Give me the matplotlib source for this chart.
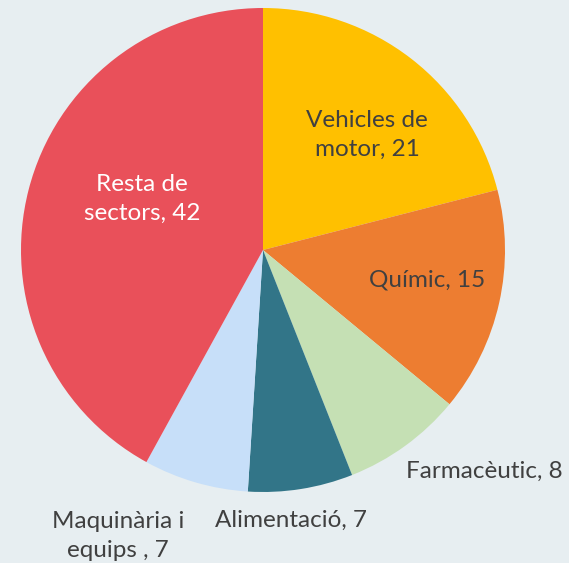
import matplotlib.pyplot as plt

# Data
sectors = ['Vehicles de\nmotor, 21', 'Químic, 15', 'Farmacèutic, 8',
           'Alimentació, 7', 'Maquinària i\nequips , 7', 'Resta de\nsectors, 42']
values = [21, 15, 8, 7, 7, 42]
colors = ['#FFC000', '#ED7D31', '#C5E0B4', '#327588', '#C7DFF9', '#E9505A']
text_colors = ['#404040', '#404040', '#404040', '#404040', '#404040', '#FFFFFF']

# label positions in pixel coords (x, y from top)
label_pos = [(367, 135), (427, 280), (484, 471), (291, 520), (118, 536), (142, 199)]

W, H = 569, 563
bg = '#E7EEF1'

fig = plt.figure(figsize=(W / 100, H / 100), dpi=100, facecolor=bg)
ax = fig.add_axes([0, 0, 1, 1])
ax.set_facecolor(bg)

cx, cy, r = 263, 250, 242
ax.pie(values, colors=colors, startangle=90, counterclock=False,
       center=(cx, H - cy), radius=r, frame=True,
       wedgeprops=dict(linewidth=0))

for lab, (px, py), tc in zip(sectors, label_pos, text_colors):
    ax.text(px, H - py, lab, ha='center', va='center', fontsize=17.5,
            color=tc, family='Lato', linespacing=1.45)

ax.set_xlim(0, W)
ax.set_ylim(0, H)
ax.set_aspect('equal')
ax.axis('off')

fig.savefig('out.png', dpi=100, facecolor=bg)
